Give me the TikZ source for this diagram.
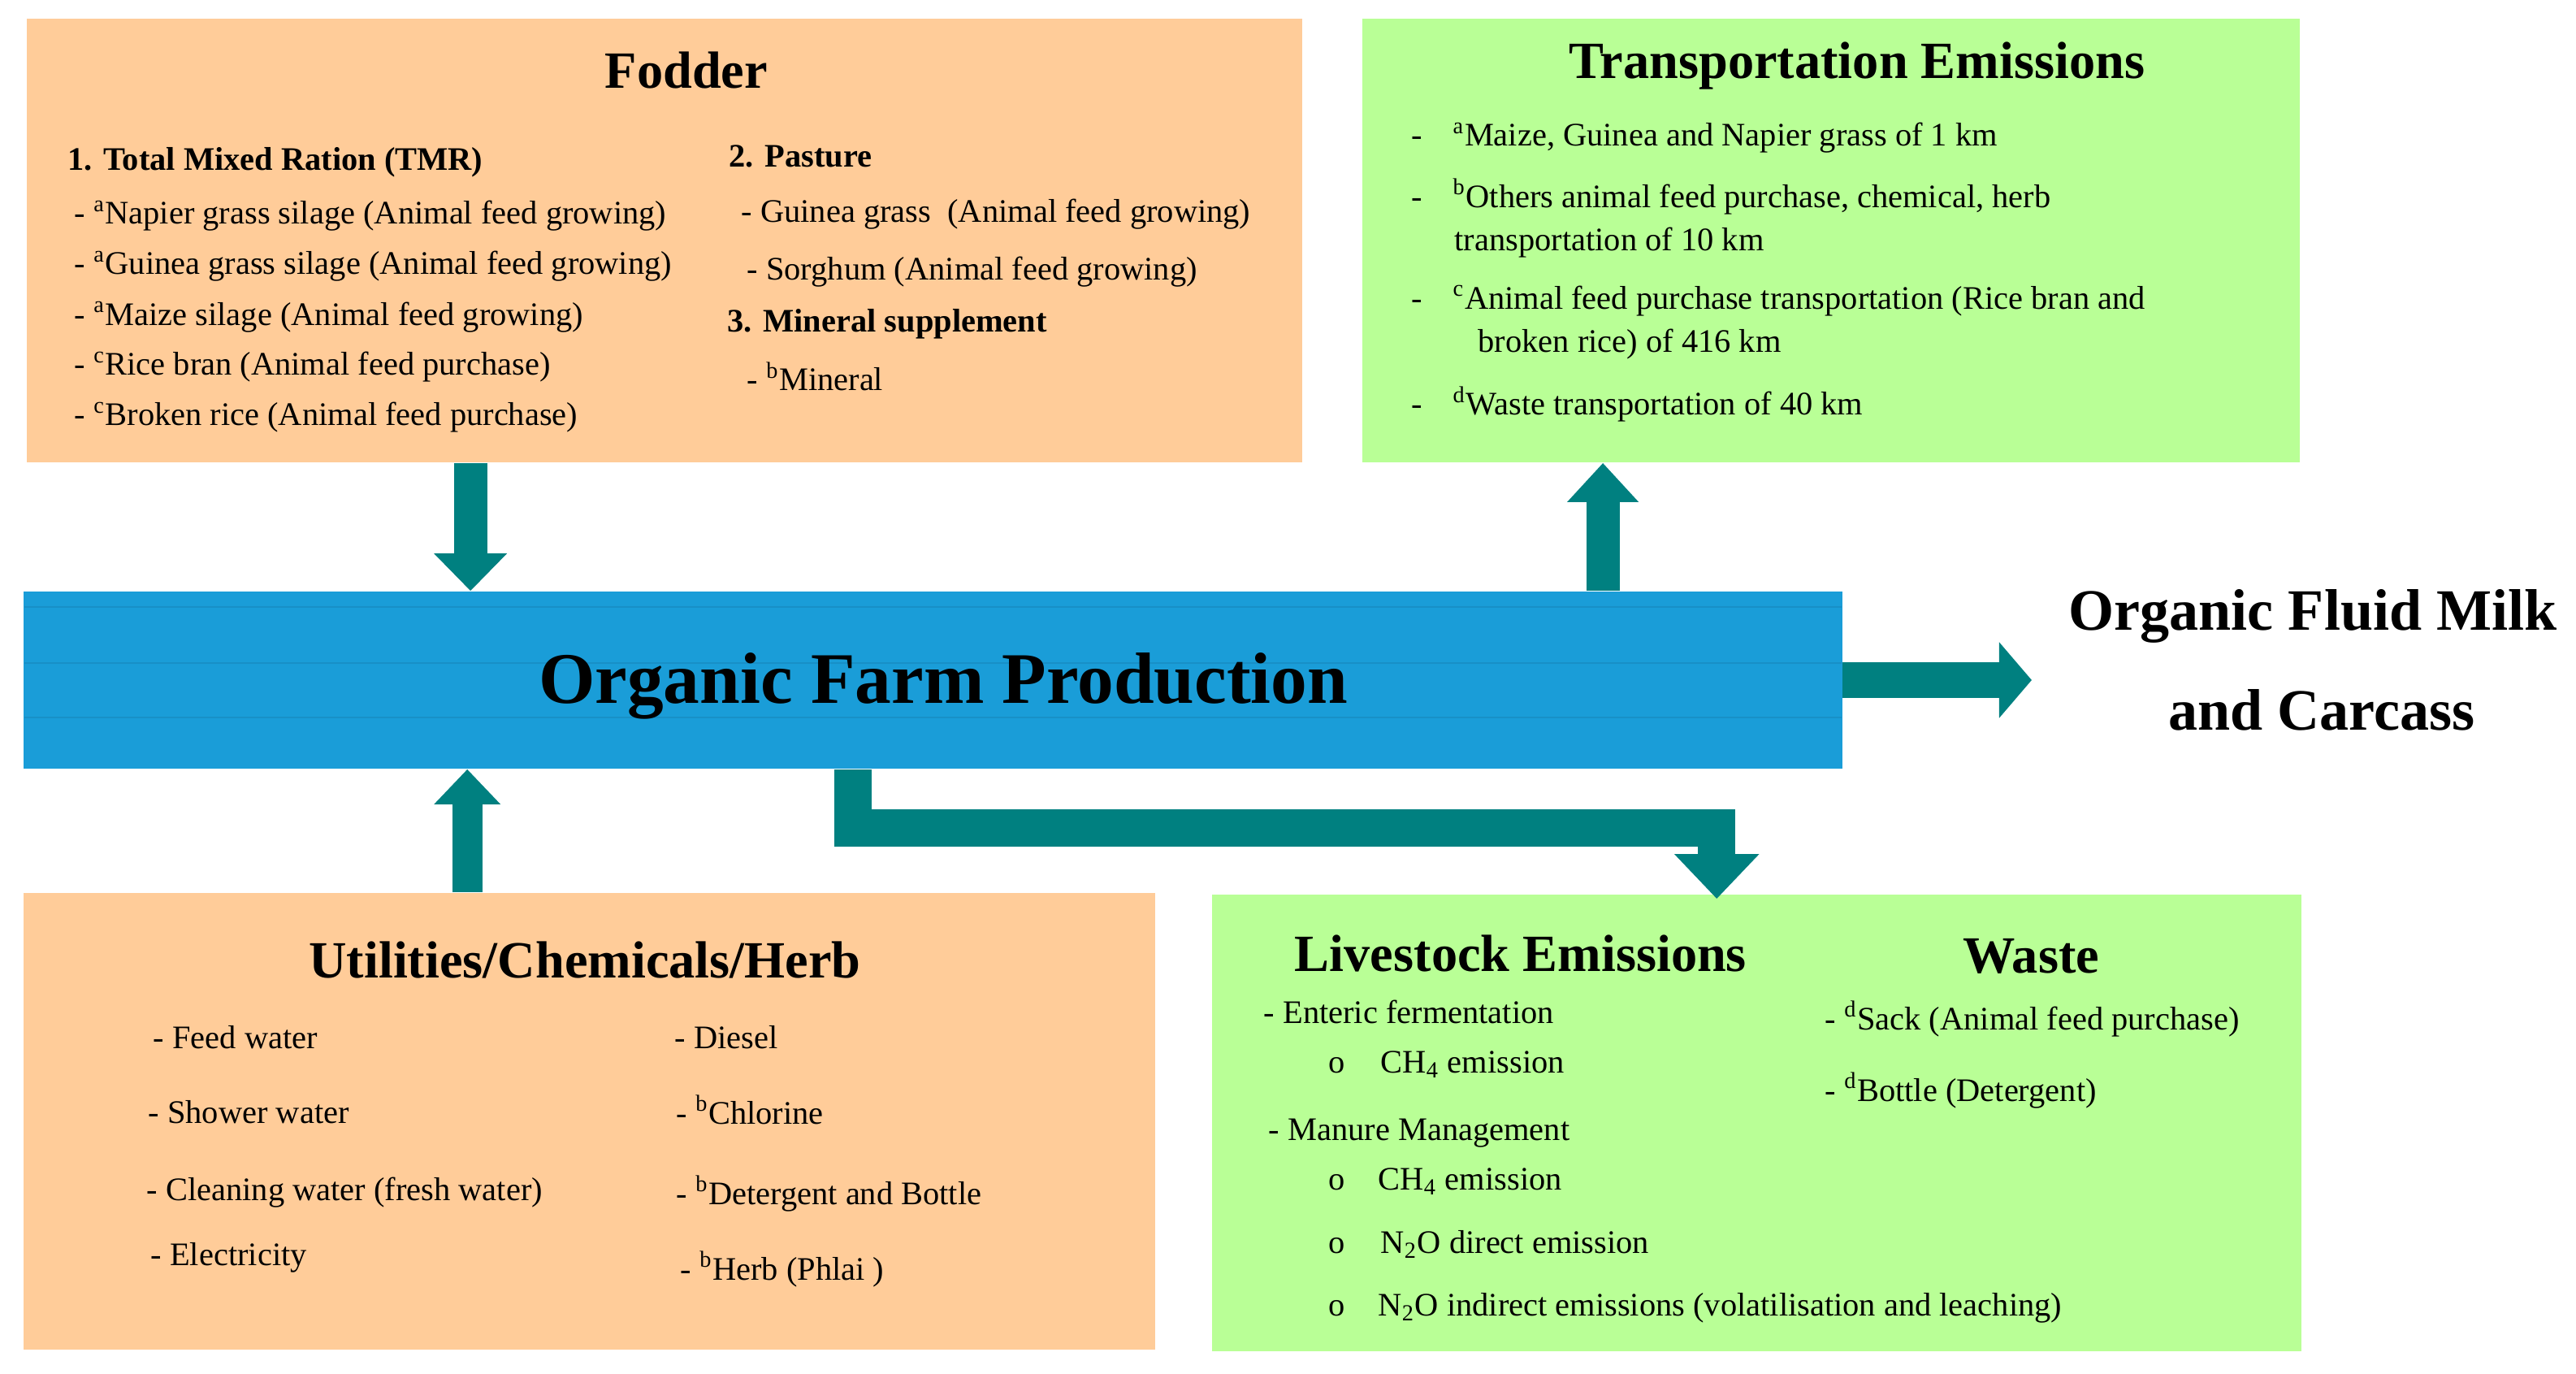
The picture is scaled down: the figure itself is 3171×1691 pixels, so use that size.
\documentclass[tikz,border=0pt]{standalone}
\usepackage{fontspec}
\setmainfont{Liberation Serif}
\usetikzlibrary{arrows.meta}
\definecolor{peach}{HTML}{FFCC99}
\definecolor{leaf}{HTML}{B9FF96}
\definecolor{farmblue}{HTML}{1A9DD8}
\definecolor{pipeteal}{HTML}{008080}
\newcommand{\mk}[1]{\textsuperscript{#1}}
\tikzset{
  panel/.style={rectangle, inner sep=0pt, fill=#1},
  head/.style={anchor=base, inner sep=0pt, font=\fontsize{18.3}{22}\selectfont\bfseries},
  item/.style={anchor=base west, inner sep=0pt, font=\fontsize{11.5}{14}\selectfont},
  bitem/.style={item, font=\fontsize{11.5}{14}\selectfont\bfseries},
  big/.style={anchor=base, inner sep=0pt, font=\fontsize{20.5}{25}\selectfont\bfseries},
  pipe/.style={draw=pipeteal, line width=#1}
}
\begin{document}
\begin{tikzpicture}[x=0.01cm, y=-0.01cm]
    \useasboundingbox (0,0) rectangle (3171,1691);
    % panels
    \node[panel=peach, minimum width=15.70cm, minimum height=5.46cm] (fodder) at (818,296) {};
    \node[panel=leaf, minimum width=11.54cm, minimum height=5.46cm] (transport) at (2254,296) {};
    \node[panel=farmblue, minimum width=22.37cm, minimum height=2.18cm] (farm) at (1148.5,837) {};
    \node[panel=peach, minimum width=13.93cm, minimum height=5.62cm] (util) at (725.5,1380) {};
    \node[panel=leaf, minimum width=13.41cm, minimum height=5.62cm] (live) at (2162.5,1382) {};
    \foreach \y in {747,816,883} \draw[farmblue!92!black, line width=0.3pt] (30,\y) -- (2267,\y);
    \coordinate (milkin) at (2501,837);

    % flows
    \draw[pipe=0.41cm, -{Triangle[length=0.46cm,width=0.87cm]}] ([xshift=5.47cm]fodder.south west) -- ([xshift=5.47cm]fodder.south west |- farm.north);
    \draw[pipe=0.41cm, -{Triangle[length=0.48cm,width=0.85cm]}] ([xshift=2.97cm]transport.south west |- farm.north) -- ([xshift=2.97cm]transport.south west);
    \draw[pipe=0.37cm, -{Triangle[length=0.43cm,width=0.79cm]}] ([xshift=5.47cm]util.north west) -- ([xshift=5.47cm]util.north west |- farm.south);
    \draw[pipe=0.44cm, -{Triangle[length=0.40cm,width=0.91cm]}] (farm.east) -- (farm.east -| milkin);
    \draw[pipe=0.46cm, line join=miter, -{Triangle[length=0.55cm,width=1.01cm]}] ([xshift=10.21cm]farm.south west) -- ++(0,72.5) -| ([xshift=6.22cm,yshift=-0.06cm]live.north west);

    % fodder
    \node[head] (foddertitle) at (845,109) {Fodder};
    \node[bitem] (tmr) at (83,210) {1. Total Mixed Ration (TMR)};
    \foreach \t [count=\i] in {\mk{a}Napier grass silage (Animal feed growing), \mk{a}Guinea grass silage (Animal feed growing), \mk{a}Maize silage (Animal feed growing), \mk{c}Rice bran (Animal feed purchase), \mk{c}Broken rice (Animal feed purchase)}
      \node[item] (tmr\i) at (91,{276+62*(\i-1)}) {- \t};
    \node[bitem] (pasture) at (897,206) {2. Pasture};
    \node[item] (guinea) at (912,274) {- Guinea grass\ \ (Animal feed growing)};
    \node[item] (sorghum) at (919,344) {- Sorghum (Animal feed growing)};
    \node[bitem] (mineral) at (895,409) {3. Mineral supplement};
    \node[item] (minb) at (919,481) {- \mk{b}Mineral};

    % transportation
    \node[head] (transtitle) at (2286,97) {Transportation Emissions};
    \foreach \y [count=\i] in {180,255,380,511}
      \node[item] (tdash\i) at (1737,\y) {-};
    \node[item] (trans1) at (1788,180) {\mk{a}Maize, Guinea and Napier grass of 1 km};
    \node[item] (trans2) at (1788,255) {\mk{b}Others animal feed purchase, chemical, herb};
    \node[item] (trans2b) at (1790,308) {transportation of 10 km};
    \node[item] (trans3) at (1788,380) {\mk{c}Animal feed purchase transportation (Rice bran and};
    \node[item] (trans3b) at (1819,433) {broken rice) of 416 km};
    \node[item] (trans4) at (1788,511) {\mk{d}Waste transportation of 40 km};

    % farm and output
    \node[anchor=base, inner sep=0pt, font=\fontsize{25.4}{30}\selectfont\bfseries] (farmlabel) at (1161,865) {Organic Farm Production};
    \node[big] (milk) at (2847,775) {Organic Fluid Milk};
    \node[big] (carcass) at (2858,898) {and Carcass};

    % utilities
    \node[head] (utiltitle) at (720,1203) {Utilities/Chemicals/Herb};
    \node[item] (feedw) at (188,1290) {- Feed water};
    \node[item] (showerw) at (182,1382) {- Shower water};
    \node[item] (cleanw) at (180,1477) {- Cleaning water (fresh water)};
    \node[item] (elec) at (185,1557) {- Electricity};
    \node[item] (diesel) at (830,1290) {- Diesel};
    \node[item] (chlor) at (832,1383) {- \mk{b}Chlorine};
    \node[item] (deterg) at (832,1482) {- \mk{b}Detergent and Bottle};
    \node[item] (herb) at (837,1575) {- \mk{b}Herb (Phlai\ )};

    % livestock and waste
    \node[head] (livetitle) at (1872,1195) {Livestock Emissions};
    \node[head] (wastetitle) at (2500,1197) {Waste};
    \node[item] (enteric) at (1555,1259) {- Enteric fermentation};
    \node[item] (manure) at (1561,1403) {- Manure Management};
    \foreach \y [count=\i] in {1320,1464,1542,1619}
      \node[item] (bul\i) at (1635,\y) {o};
    \node[item] (ch4a) at (1699,1320) {CH\textsubscript{4} emission};
    \node[item] (ch4b) at (1696,1464) {CH\textsubscript{4} emission};
    \node[item] (n2od) at (1699,1542) {N\textsubscript{2}O direct emission};
    \node[item] (n2oi) at (1696,1619) {N\textsubscript{2}O indirect emissions (volatilisation and leaching)};
    \node[item] (sack) at (2246,1267) {- \mk{d}Sack (Animal feed purchase)};
    \node[item] (bottle) at (2246,1355) {- \mk{d}Bottle (Detergent)};
\end{tikzpicture}
\end{document}
